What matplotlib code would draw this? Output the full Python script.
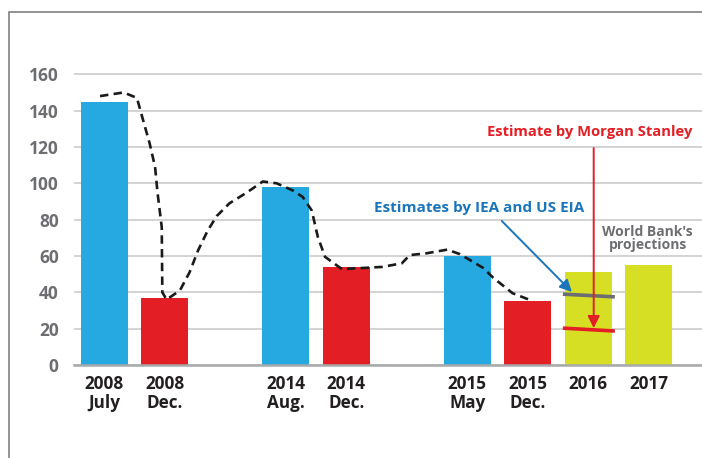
import numpy as np
import matplotlib
matplotlib.use("Agg")
import matplotlib.pyplot as plt
from matplotlib.patches import Rectangle

plt.rcParams["font.family"] = ["Open Sans", "DejaVu Sans"]

# bars
labels = ["2008\nJuly", "2008\nDec.", "2014\nAug.", "2014\nDec.",
	"2015\nMay", "2015\nDec.", "2016", "2017"]
slots = [0, 1, 3, 4, 6, 7, 8, 9]
prices = [145, 37, 98, 54, 60, 35, 51, 55]
kinds = ["peak", "low", "peak", "low", "peak", "low", "wb", "wb"]

# dashed price curve (slot units, USD)
curve_x = [-0.07, 0.32, 0.54, 0.64, 0.75, 0.84, 0.88, 0.95, 0.955, 0.96,
	1.03, 1.25, 1.41, 1.55, 1.71, 1.86, 2.07, 2.36, 2.62, 2.85,
	3.12, 3.28, 3.43, 3.53, 3.65, 3.94, 4.05, 4.6, 4.92, 5.05,
	5.33, 5.67, 5.88, 6.26, 6.43, 6.75, 7.02]
curve_y = [148, 150, 147, 135, 122, 109, 95, 76, 58, 40,
	36, 41, 51, 63, 74, 82, 89, 95, 101, 100,
	96, 92.5, 85, 70.5, 59.5, 52.5, 53, 54, 56, 60.5,
	61.5, 63.5, 61, 53.5, 48, 39.5, 36]

# 2016 estimates (start, end)
iea_est = [39, 37.5]
ms_est = [20.3, 18.7]

colors = {"peak": "#25a9e0", "low": "#e31e24", "wb": "#d6df23"}
gray = "#6d6e71"

fig = plt.figure(figsize=(7.02, 4.58), dpi=100)
fig.patches.append(Rectangle((9 / 702, -0.1), 1.2, 1 - 12 / 458 + 0.1,
	transform=fig.transFigure, fill=False, edgecolor="#8a8a8a", lw=1.3))

ax = fig.add_axes([74 / 702, 93 / 458, 628 / 702, 162 * 1.8169 / 458])
ax.bar(slots, prices, width=0.78, color=[colors[k] for k in kinds], zorder=2)
ax.plot(curve_x, curve_y, color="#1a1a1a", lw=1.9, dashes=(3.2, 2.0), zorder=3)

ax.set_xlim(-0.5, 9.88)
ax.set_ylim(0, 162)
ax.set_yticks(range(0, 161, 20))
ax.yaxis.grid(True, color="#cccccc", lw=1.2, zorder=0)
ax.set_axisbelow(True)
for s in ["top", "right", "left"]:
	ax.spines[s].set_visible(False)
ax.spines["bottom"].set_color("#a7a9ac")
ax.spines["bottom"].set_linewidth(1.8)
ax.set_xticks(slots)
ax.set_xticklabels(labels, fontsize=12.3, fontweight="bold", color="#231f20",
	linespacing=1.12)
ax.tick_params(axis="x", length=0, pad=7)
ax.tick_params(axis="y", length=0, pad=11, labelsize=12.5, labelcolor=gray)
for t in ax.get_yticklabels():
	t.set_fontweight("bold")

# estimate marks on 2016
x0, x1 = 8 - 0.42, 8 + 0.44
ax.plot([x0, x1], iea_est, color=gray, lw=2.6, zorder=4, solid_capstyle="butt")
ax.plot([x0, x1], ms_est, color="#e31e24", lw=2.6, zorder=4, solid_capstyle="butt")

ax.annotate("", xy=(7.73, 40.2), xytext=(6.57, 79.3),
	arrowprops=dict(arrowstyle="-|>", color="#1a75bb", lw=1.4,
		mutation_scale=18, shrinkA=0, shrinkB=0), zorder=5)
ax.text(6.19, 86.4, "Estimates by IEA and US EIA", color="#1a75bb",
	fontsize=11.0, fontweight="bold", ha="center", va="center")

ax.annotate("", xy=(8.09, 20.3), xytext=(8.09, 119.4),
	arrowprops=dict(arrowstyle="-|>", color="#e31e24", lw=1.4,
		mutation_scale=18, shrinkA=0, shrinkB=0), zorder=5)
ax.text(8.02, 128, "Estimate by Morgan Stanley", color="#e31e24",
	fontsize=10.6, fontweight="bold", ha="center", va="center")

ax.text(8.98, 69.6, "World Bank's\nprojections", color=gray, fontsize=10,
	fontweight="bold", ha="center", va="center", linespacing=0.95)

fig.savefig("out.png", dpi=100)
